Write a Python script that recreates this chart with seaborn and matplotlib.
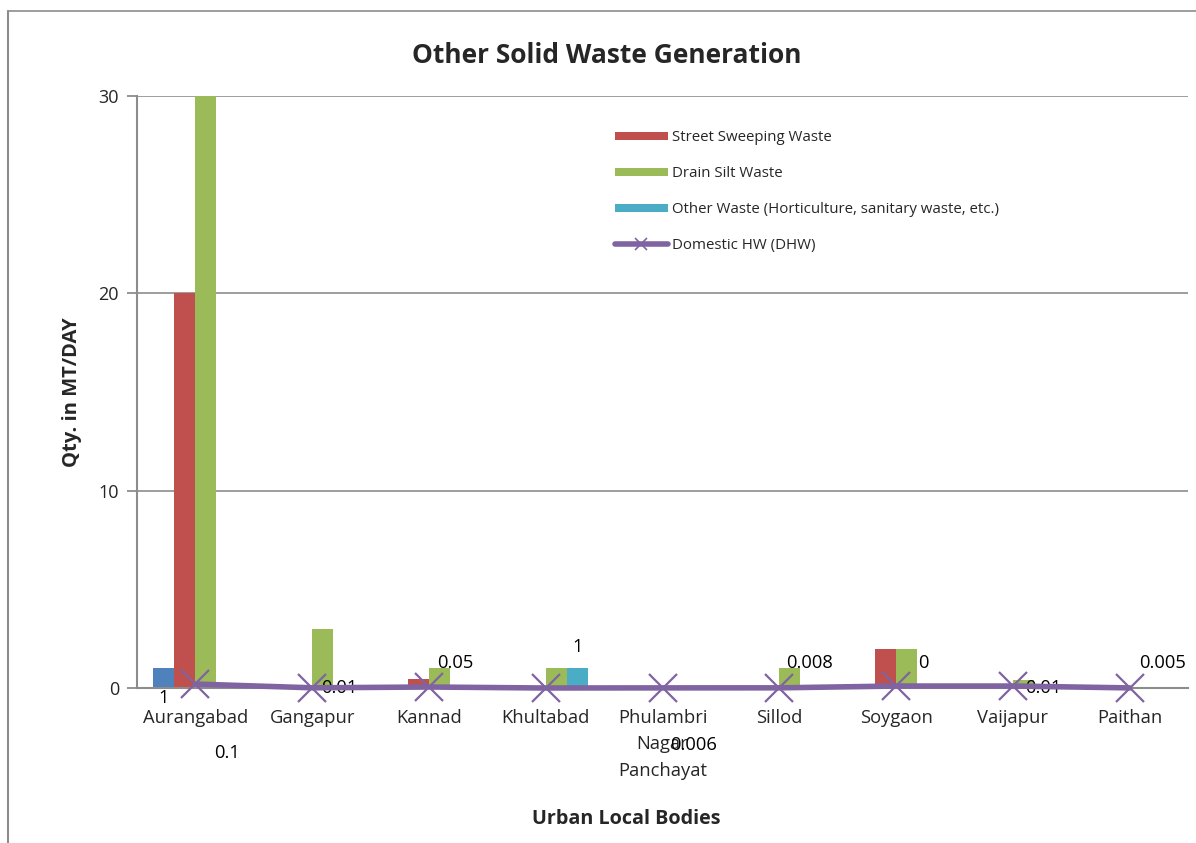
import numpy as np
import pandas as pd
import matplotlib
matplotlib.use("Agg")
import matplotlib.pyplot as plt
from matplotlib.patches import Patch
from matplotlib.lines import Line2D
import seaborn as sns

sns.set_theme(style="white")
plt.rcParams['font.family'] = ['Open Sans', 'DejaVu Sans']

# ---- data ----
categories = ["Aurangabad", "Gangapur", "Kannad", "Khultabad", "Phulambri\nNagar\nPanchayat",
              "Sillod", "Soygaon", "Vaijapur", "Paithan"]
series1 = [1, 0, 0, 0, 0, 0, 0, 0, 0]
street_sweeping = [20, 0, 0.45, 0, 0, 0, 2, 0, 0]
drain_silt = [30, 3, 1, 1, 0, 1, 2, 0.4, 0]
other_waste = [0, 0, 0, 1, 0, 0, 0, 0, 0]
domestic_hw = [0.2, 0.01, 0.05, 0.0, 0.006, 0.008, 0.1, 0.1, 0.005]
series_names = ["Series1", "Street Sweeping Waste", "Drain Silt Waste",
                "Other Waste (Horticulture, sanitary waste, etc.)"]
line_name = "Domestic HW (DHW)"
label_texts = ["1", "0.1", "0.01", "0.05", "1", "0.006", "0.008", "0", "0.01", "0.005"]
label_cats = [0, 0, 1, 2, 3, 4, 5, 6, 7, 8]

# ---- styles ----
colors = ["#4F81BD", "#C0504D", "#9BBB59", "#4BACC6"]
line_color = "#8064A2"
grid_gray = "#8C8C8C"
# label offsets (x in category units, y in data units)
label_dx = [-0.27, 0.27, 0.23, 0.23, 0.27, 0.27, 0.26, 0.23, 0.26, 0.28]
label_dy = [-0.5, -3.3, 0.0, 1.25, 2.1, -2.9, 1.25, 1.25, 0.0, 1.25]

df = pd.DataFrame({
    "ULB": np.repeat(categories, 4),
    "Series": series_names * len(categories),
    "Value": np.column_stack([series1, street_sweeping, drain_silt, other_waste]).ravel(),
})

fig = plt.figure(figsize=(11.96, 8.43), dpi=100)
ax = fig.add_axes([137/1196, 1-688/843, (1188-137)/1196, (688-96)/843])

sns.barplot(data=df, x="ULB", y="Value", hue="Series", hue_order=series_names,
            order=categories, palette=colors, width=0.72, gap=0, dodge=True,
            saturation=1, ax=ax, legend=False, edgecolor="none", linewidth=0)

xpos = np.arange(len(categories))
sns.lineplot(x=xpos, y=domestic_hw, ax=ax, color=line_color, linewidth=4,
             marker="x", markersize=20, markeredgewidth=1.6, markeredgecolor=line_color,
             legend=False, clip_on=False, zorder=5)

ax.set_ylim(0, 30)
ax.set_xlim(-0.5, len(categories) - 0.5)
ax.set_yticks([0, 10, 20, 30])
ax.yaxis.grid(True, color=grid_gray, linewidth=1.2)
ax.set_axisbelow(True)
for s in ["top", "right"]:
    ax.spines[s].set_visible(False)
for s in ["left", "bottom"]:
    ax.spines[s].set_color(grid_gray)
    ax.spines[s].set_linewidth(1.5)
ax.tick_params(axis="y", length=7, color=grid_gray, width=1.3, labelsize=13, pad=6, left=True)
ax.tick_params(axis="x", length=0, labelsize=13.2, pad=15, bottom=False)
ax.set_xticks(xpos)
ax.set_xticklabels(categories, linespacing=1.6)

ax.set_xlabel("Urban Local Bodies", fontsize=14.2, fontweight="bold", labelpad=21,
              x=(626-137)/1051)
ax.set_ylabel("Qty. in MT/DAY", fontsize=14.5, fontweight="bold", labelpad=12)
ax.set_title("Other Solid Waste Generation", fontsize=19, fontweight="bold", pad=24,
             x=(607-137)/1051)

for t, c, dx, dy in zip(label_texts, label_cats, label_dx, label_dy):
    ax.text(c + dx, dy, t, fontsize=13.2,
            ha="center", va="center", color="black", clip_on=False)

handles = [Patch(facecolor=colors[i], edgecolor="none") for i in range(1, 4)]
handles.append(Line2D([0], [0], color=line_color, linewidth=4, marker="x",
                      markersize=8, markeredgewidth=1.2))
labels = series_names[1:] + [line_name]
leg = ax.legend(handles, labels, loc="upper left", bbox_to_anchor=(0.442, 0.965),
                frameon=False, fontsize=10.8, handlelength=3.5, handleheight=0.5,
                labelspacing=1.4, handletextpad=0.3)

# outer chart border (left and top)
fig.add_artist(Line2D([8/1196, 1.0], [1-11/843, 1-11/843], color=grid_gray, linewidth=1.2,
                      transform=fig.transFigure))
fig.add_artist(Line2D([8/1196, 8/1196], [0, 1-11/843], color=grid_gray, linewidth=1.5,
                      transform=fig.transFigure))

fig.savefig("out.png", dpi=100)
